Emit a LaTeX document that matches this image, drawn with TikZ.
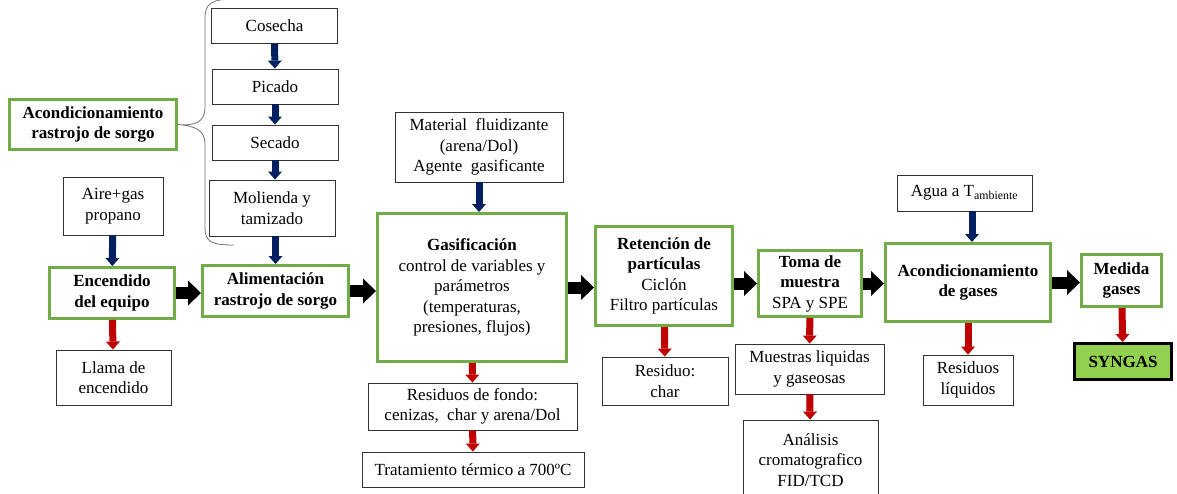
\documentclass[tikz,border=0pt]{standalone}
\usepackage{fontspec}
\setmainfont{Liberation Serif}
\usepackage{xcolor}
\usepackage{tikz}
\usetikzlibrary{arrows.meta,
positioning,
calc}

\definecolor{stagegreen}{HTML}{70AD47}
\definecolor{feednavy}{HTML}{002060}
\definecolor{wastered}{HTML}{C00000}
\definecolor{syngreen}{HTML}{92D050}

\begin{document}
\begin{tikzpicture}[
x=1pt, y=-1pt,
every node/.style={
align=center,
inner sep=2pt,
font=\fontsize{17}{20.5}\selectfont
},
infobox/.style={draw=black!80, line width=0.9pt},
stagebox/.style={draw=stagegreen, line width=3pt, font=\fontsize{17}{20.5}\selectfont\bfseries},
mainarr/.style={line width=12pt, -{Triangle[length=13pt,width=25pt,line width=0pt]}},
feedarr/.style={draw=feednavy, line width=7pt, -{Triangle[length=8pt,width=14pt,line width=0pt]}},
wastearr/.style={draw=wastered, line width=7pt, -{Triangle[length=8pt,width=14pt,line width=0pt]}}
]
\useasboundingbox (0,0) rectangle (1177,493);

% acondicionamiento del rastrojo
\node (cosecha) [infobox, minimum width=126pt, minimum height=35pt] at (274.5,26) {Cosecha};
\node (picado) [infobox, minimum width=126pt, minimum height=35pt] at (275,86.5) {Picado};
\node (secado) [infobox, minimum width=126pt, minimum height=35pt] at (275,142.5) {Secado};
\node (molienda) [infobox, minimum width=126pt, minimum height=56pt] at (272,208) {Molienda y\\tamizado};
\node (acond) [stagebox, minimum width=167pt, minimum height=50pt] at (93,124.5) {Acondicionamiento\\rastrojo de sorgo};

% linea principal
\node (aire) [infobox, minimum width=100pt, minimum height=58pt] at (113,206) {Aire+gas\\propano};
\node (encendido) [stagebox, minimum width=125pt, minimum height=51pt] at (112,293) {Encendido\\del equipo};
\node (llama) [infobox, minimum width=115pt, minimum height=55pt] at (113.5,377.5) {Llama de\\encendido};
\node (alimentacion) [stagebox, minimum width=146pt, minimum height=51pt] at (275.5,291) {Alimentación\\rastrojo de sorgo};
\node (material) [infobox, minimum width=168pt, minimum height=70pt] at (479,147) {Material~ fluidizante\\(arena/Dol)\\Agente~ gasificante};
\node (gasif) [stagebox, minimum width=189pt, minimum height=148pt] at (472,287.5) {Gasificación\\\mdseries control de variables y\\\mdseries parámetros\\\mdseries (temperaturas,\\\mdseries presiones, flujos)};
\node (fondo) [infobox, minimum width=209pt, minimum height=47pt] at (472.5,406.5) {Residuos de fondo:\\cenizas,~ char y arena/Dol};
\node (tratamiento) [infobox, minimum width=222pt, minimum height=35pt] at (473,469.5) {Tratamiento térmico a 700ºC};
\node (retencion) [stagebox, minimum width=137pt, minimum height=99pt] at (664,276) {Retención de\\partículas\\\mdseries Ciclón\\\mdseries Filtro partículas};
\node (char) [infobox, minimum width=126pt, minimum height=48pt] at (665,381) {Residuo:\\char};
\node (toma) [stagebox, minimum width=103pt, minimum height=66pt] at (810,283.5) {Toma de\\muestra\\\mdseries SPA y SPE};
\node (muestras) [infobox, minimum width=149pt, minimum height=50pt] at (809.5,369) {Muestras liquidas\\y gaseosas};
\node (analisis) [infobox, minimum width=135pt, minimum height=80pt] at (810.5,460) {Análisis\\cromatografico\\FID/TCD};
\node (agua) [infobox, minimum width=135pt, minimum height=36pt] at (964.5,193) {Agua a T\textsubscript{ambiente}};
\node (acgases) [stagebox, minimum width=165pt, minimum height=78pt] at (968,282.5) {Acondicionamiento\\de gases};
\node (liquidos) [infobox, minimum width=90pt, minimum height=50pt] at (968,380) {Residuos\\líquidos};
\node (medida) [stagebox, minimum width=80pt, minimum height=52pt] at (1121.5,280.5) {Medida\\gases};
\node (syngas) [draw=black, line width=3pt, fill=syngreen, minimum width=97pt, minimum height=36pt, font=\fontsize{17}{20.5}\selectfont\bfseries] at (1123,361.5) {SYNGAS};

% llave
\draw[black!55, line width=0.8pt] (236,-1) .. controls (212,-1) and (205,3) .. (205,18) -- (205,108)
  .. controls (205,122) and (195,126) .. (acond.east)
  .. controls (195,126) and (205,130) .. (205,144) -- (205,228)
  .. controls (205,242) and (212,245) .. (234,245);

\draw[feedarr] (cosecha) -- (picado);
\draw[feedarr] (picado) -- (secado);
\draw[feedarr] (secado.south) -- (secado.south |- molienda.north);
\draw[feedarr] (alimentacion.north |- molienda.south) -- (alimentacion.north);
\draw[feedarr] (aire) -- (encendido);
\draw[feedarr] (material.south) -- (material.south |- gasif.north);
\draw[feedarr] (agua.south -| acgases.north) ++(4,0) -- ([xshift=4pt]acgases.north);

\draw[wastearr] (encendido) -- (llama);
\draw[wastearr] (gasif) -- (fondo);
\draw[wastearr] (fondo) -- (tratamiento);
\draw[wastearr] (retencion) -- (char);
\draw[wastearr] (toma) -- (muestras);
\draw[wastearr] (muestras) -- (analisis);
\draw[wastearr] (acgases) -- (liquidos);
\draw[wastearr] (medida) -- (syngas);

\draw[mainarr] (encendido.east) -- (encendido.east -| alimentacion.west);
\draw[mainarr] (alimentacion.east) -- (alimentacion.east -| gasif.west);
\draw[mainarr] (gasif.east) -- (gasif.east -| retencion.west);
\draw[mainarr] (toma.west -| retencion.east) -- (toma.west);
\draw[mainarr] (toma.east) -- (toma.east -| acgases.west);
\draw[mainarr] (acgases.east) -- (acgases.east -| medida.west);

\end{tikzpicture}
\end{document}
